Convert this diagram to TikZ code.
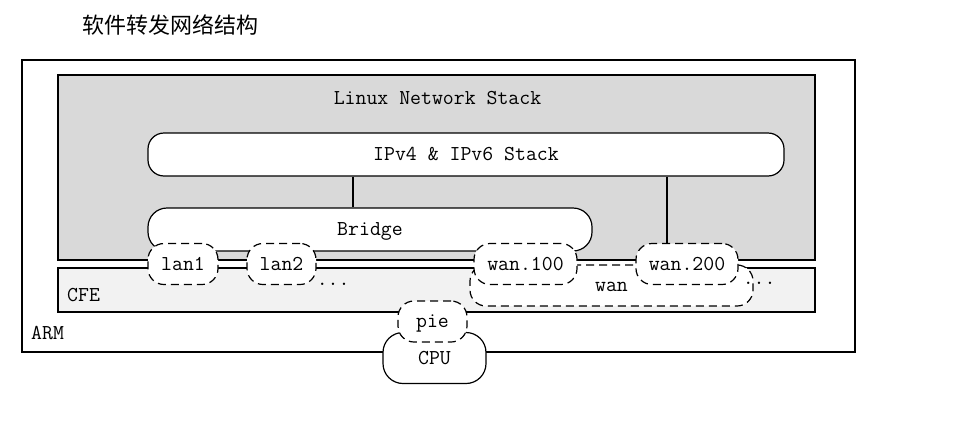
\documentclass[tikz,border=0pt]{standalone}
\usepackage{fontspec}
\newfontfamily\cjk{Noto Sans CJK SC}
\begin{document}
\begin{tikzpicture}[x=1pt,y=-1pt,
  lbl/.style={font=\fontsize{21.2}{24}\selectfont\ttfamily, text=black},
  solidbox/.style={draw=black, line width=1.2pt, fill=white, inner sep=0pt, lbl,
     text height=13pt, text depth=1pt},
  dashbox/.style={draw=black, line width=1.2pt, fill=white, inner sep=0pt, lbl,
     text height=13pt, text depth=1pt,
     dash pattern=on 8pt off 5pt, rounded corners=16pt},
  plain/.style={draw=black, line width=1.2pt}
]
\useasboundingbox (0,0) rectangle (962,426);
\fill[white] (0,0) rectangle (962,426);

\node[font=\fontsize{22}{26}\selectfont\cjk, anchor=west, inner sep=0pt] (title) at (82.5,25) {软件转发网络结构};

% outer boxes
\draw[plain] (22,60) rectangle (855,352);
\draw[plain, fill=black!15] (58,75) rectangle (815,260);
\draw[plain, fill=black!5] (58,268) rectangle (815,312);

\node[lbl, inner sep=0pt, text height=13pt, text depth=1pt] (linux) at (437.5,98) {Linux Network Stack};
\node[lbl, inner sep=0pt, anchor=west, text height=13pt, text depth=1pt] (cfe) at (67,295) {CFE};
\node[lbl, inner sep=0pt, anchor=west, text height=13pt, text depth=1pt] (arm) at (31,333) {ARM};

% stack and bridge
\node[solidbox, rounded corners=16pt, minimum width=636pt, minimum height=43pt] (ipstack) at (466,154.5) {IPv4 \& IPv6 Stack};
\node[solidbox, rounded corners=19pt, minimum width=444pt, minimum height=43pt] (bridge) at (370,229.5) {Bridge};

\coordinate (c1) at (353,0);
\coordinate (c2) at (667,0);

% wan group
\node[dashbox, minimum width=283pt, minimum height=41pt] (wan) at (611.5,285.5) {wan};

% ports
\node[dashbox, minimum width=70pt, minimum height=41pt] (lan1) at (183,264) {lan1};
\node[dashbox, minimum width=69pt, minimum height=41pt] (lan2) at (281.5,264) {lan2};
\node[dashbox, minimum width=103pt, minimum height=41pt] (wan100) at (525.5,264) {wan.100};
\node[dashbox, minimum width=102pt, minimum height=41pt] (wan200) at (687,264) {wan.200};

\draw[plain] (ipstack.south -| c1) -- (bridge.north -| c1);
\draw[plain] (ipstack.south -| c2) -- (wan200.north -| c2);

\node[lbl, inner sep=0pt, anchor=south west] (dots1) at ([yshift=-3pt]lan2.east |- 0,283) {...};
\node[lbl, inner sep=0pt, anchor=south west] (dots2) at ([xshift=4pt]wan200.east |- 0,285) {...};

% CPU
\node[solidbox, rounded corners=20pt, minimum width=103pt, minimum height=51pt] (cpu) at (434.5,358) {CPU};
\node[dashbox, minimum width=69pt, minimum height=41pt] (pie) at (432.5,321.5) {pie};
\end{tikzpicture}
\end{document}
